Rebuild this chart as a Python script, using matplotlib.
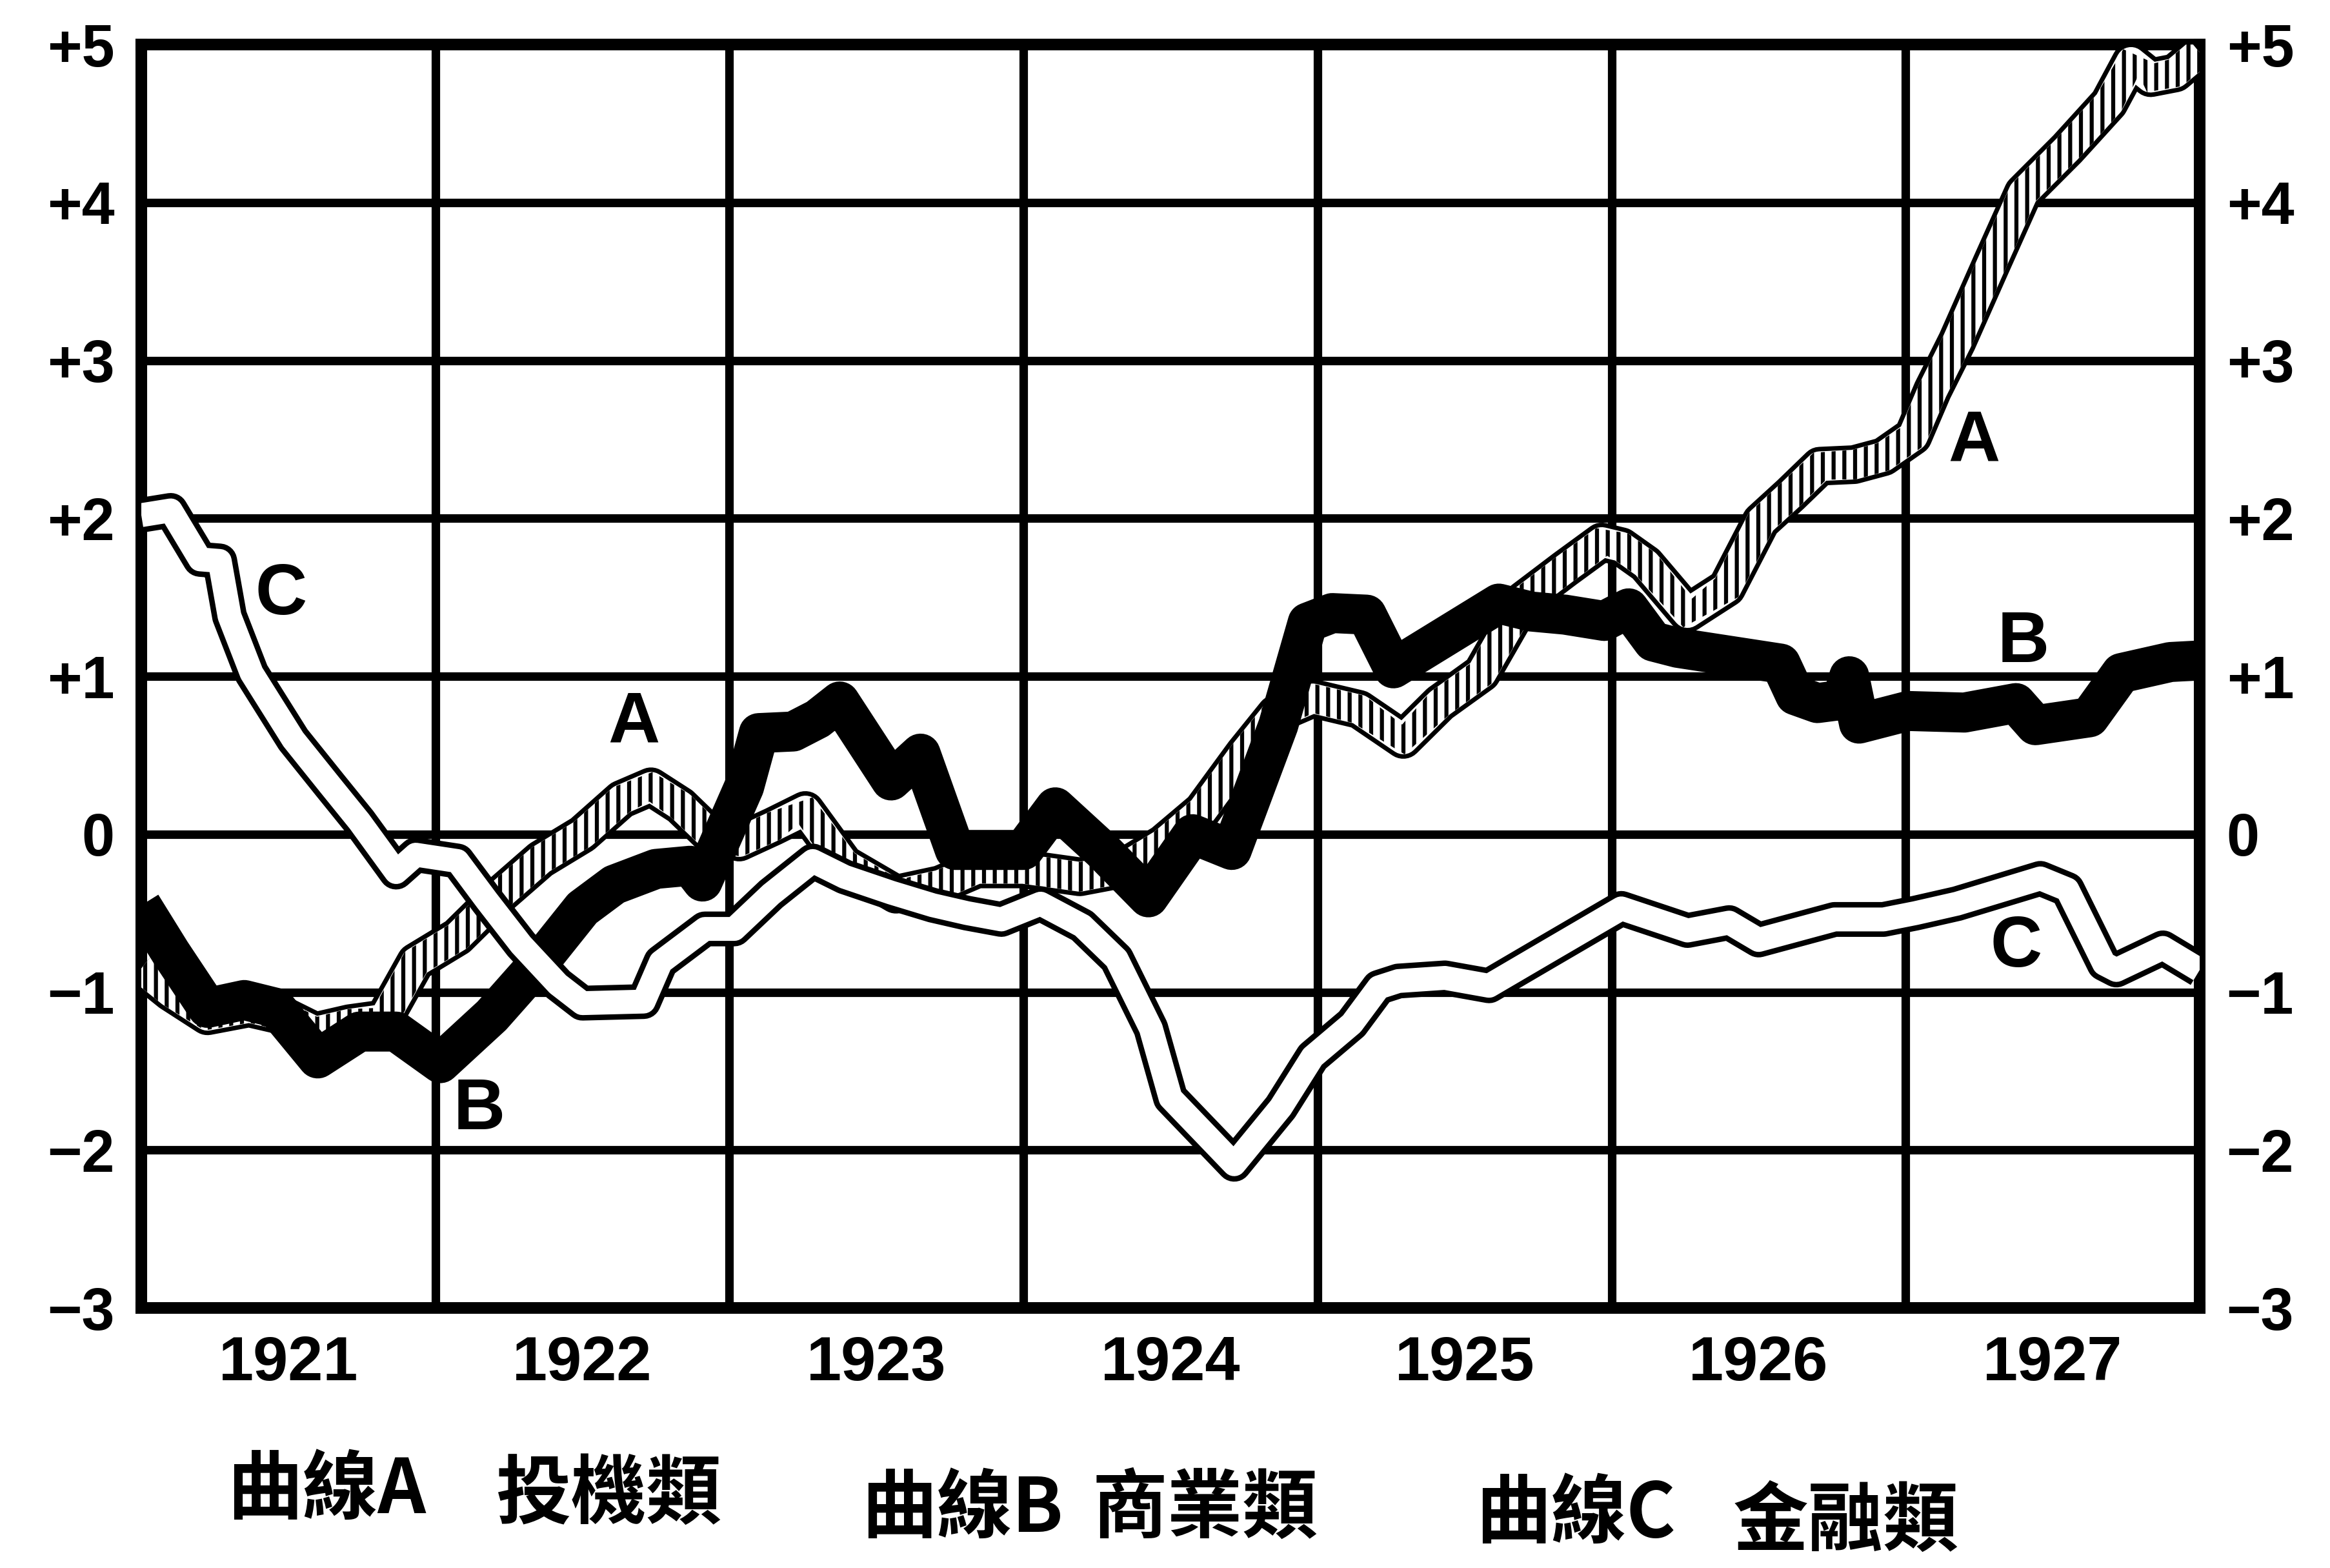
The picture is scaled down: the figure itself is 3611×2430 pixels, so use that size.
import numpy as np
import matplotlib.pyplot as plt

# months counted from January 1921, index values in standard-deviation units
years = ['1921', '1922', '1923', '1924', '1925', '1926', '1927']
y_levels = [5, 4, 3, 2, 1, 0, -1, -2, -3]
y_labels = ['+5', '+4', '+3', '+2', '+1', '0', '\u22121', '\u22122', '\u22123']

a_month = [0, 1.2, 2.7, 4.4, 5.8, 7.1, 8.5, 9.9, 11.2, 12.9, 14.6, 16.3, 18.0, 19.6,
           20.8, 22.0, 23.2, 24.4, 25.8, 27.1, 28.7, 30.8, 32.6, 34.1, 36.0, 38.3,
           40.0, 41.7, 43.3, 45.0, 46.3, 47.8, 49.7, 51.5, 53.0, 54.7, 56.4, 58.1,
           59.6, 60.4, 61.4, 63.1, 64.7, 66.1, 67.3, 68.5, 69.9, 71.1, 72.3, 73.1,
           74.1, 75.5, 76.8, 78.6, 80.3, 81.2, 82.0, 83.0, 84.0]
a_value = [-0.85, -1.00, -1.15, -1.10, -1.15, -1.25, -1.20, -1.17, -0.81, -0.65,
           -0.39, -0.16, 0.00, 0.22, 0.30, 0.18, 0.00, -0.05, 0.05, 0.15, -0.19,
           -0.38, -0.32, -0.22, -0.22, -0.27, -0.22, -0.06, 0.15, 0.51, 0.76, 0.86,
           0.79, 0.60, 0.83, 1.02, 1.48, 1.68, 1.85, 1.82, 1.71, 1.40, 1.56, 1.98,
           2.15, 2.33, 2.34, 2.39, 2.52, 2.81, 3.12, 3.61, 4.06, 4.34, 4.63, 4.89,
           4.79, 4.82, 4.95]

b_month = [0, 1.2, 2.7, 4.2, 5.5, 7.2, 8.9, 10.4, 12.2, 14.3, 16.3, 18.0, 19.3,
           21.0, 22.4, 22.9, 24.6, 25.2, 26.6, 27.6, 28.5, 30.6, 31.8, 33.2, 36.0,
           37.3, 39.2, 41.1, 42.9, 44.5, 46.4, 47.6, 48.6, 50.0, 51.1, 55.4, 56.7,
           58.1, 59.7, 60.7, 61.7, 62.7, 64.8, 66.9, 67.5, 68.4, 69.4, 69.7, 70.1,
           72.1, 74.4, 76.5, 77.3, 79.5, 80.8, 82.8, 84.0]
b_value = [-0.45, -0.75, -1.10, -1.05, -1.10, -1.42, -1.25, -1.25, -1.45, -1.15,
           -0.80, -0.47, -0.32, -0.22, -0.20, -0.30, 0.30, 0.64, 0.65, 0.73, 0.84,
           0.34, 0.51, -0.10, -0.10, 0.17, -0.10, -0.40, 0.00, -0.10, 0.69, 1.34,
           1.40, 1.39, 1.05, 1.46, 1.41, 1.39, 1.35, 1.43, 1.22, 1.18, 1.13, 1.08,
           0.88, 0.83, 0.85, 1.00, 0.70, 0.78, 0.77, 0.83, 0.69, 0.74, 1.02, 1.09,
           1.10]

c_month = [0, 1.2, 2.4, 3.2, 3.6, 4.5, 6.2, 7.7, 8.9, 10.4, 11.2, 12.9, 14.1, 15.5,
           17.0, 18.0, 20.5, 21.2, 23.0, 24.2, 25.7, 27.4, 28.7, 30.6, 32.3, 33.7,
           35.1, 36.7, 38.4, 39.8, 41.2, 42.0, 44.6, 46.5, 47.8, 49.4, 50.5, 51.3,
           53.2, 55.0, 57.2, 60.4, 63.1, 64.8, 66.0, 69.1, 71.1, 72.4, 74.1, 77.5,
           78.6, 80.1, 80.6, 82.5, 84.0]
c_value = [2.02, 2.05, 1.74, 1.73, 1.38, 1.02, 0.60, 0.31, 0.08, -0.24, -0.13,
           -0.17, -0.42, -0.70, -0.95, -1.07, -1.06, -0.81, -0.60, -0.60, -0.38,
           -0.17, -0.27, -0.37, -0.45, -0.50, -0.54, -0.44, -0.58, -0.79, -1.23,
           -1.67, -2.09, -1.73, -1.41, -1.20, -0.97, -0.93, -0.91, -0.96, -0.76,
           -0.47, -0.61, -0.56, -0.67, -0.54, -0.54, -0.50, -0.44, -0.28, -0.35,
           -0.82, -0.86, -0.72, -0.86]

curve_tags = [('C', 5.7, 1.51), ('A', 20.1, 0.70), ('B', 13.8, -1.75),
              ('A', 74.8, 2.48), ('B', 76.8, 1.21), ('C', 76.5, -0.72)]

captions = [('曲線A', 0.140, 0.049), ('投機類', 0.261, 0.046),
            ('曲線B', 0.413, 0.037), ('商業類', 0.517, 0.037),
            ('曲線C', 0.676, 0.034), ('金融類', 0.792, 0.029)]

LATIN = ['Liberation Sans', 'DejaVu Sans']
PT = 100 / 72.0  # pixels per point at dpi 100


def ribbon(ax, x, y, half_px):
    # band of constant width (in pixels) around the curve, back in data units
    pts = ax.transData.transform(np.column_stack([x, y]))
    d = np.gradient(pts, axis=0)
    n = np.column_stack([-d[:, 1], d[:, 0]])
    n /= np.hypot(n[:, 0], n[:, 1])[:, None]
    outline = np.vstack([pts + half_px * n, (pts - half_px * n)[::-1]])
    return ax.transData.inverted().transform(outline)


plt.rcParams['hatch.linewidth'] = 4.5

fig = plt.figure(figsize=(36.12, 24.30), dpi=100)
ax = fig.add_axes([219 / 3612, 1 - 2027 / 2430, 3190 / 3612, 1958 / 2430])
ax.set_xlim(0, 84)
ax.set_ylim(-3, 5)

ax.set_xticks(np.arange(0, 85, 12))
ax.set_xticks(np.arange(6, 84, 12), minor=True)
ax.set_xticklabels([])
ax.set_xticklabels(years, minor=True, fontsize=70, fontweight='bold', family=LATIN)
ax.set_yticks(y_levels)
ax.set_yticklabels(y_labels, fontsize=66, fontweight='bold', family=LATIN)
ax.tick_params(axis='x', which='both', length=0, pad=30)
ax.tick_params(axis='y', length=0, pad=30, labelright=True)

ax.set_axisbelow(True)
ax.grid(True, which='major', color='black', linewidth=9.5)
for sp in ax.spines.values():
    sp.set_linewidth(13)

# curve A: hatched band with a double outline
ax.plot(a_month, a_value, color='black', lw=60 / PT, solid_joinstyle='round',
        solid_capstyle='butt', zorder=3)
ax.plot(a_month, a_value, color='white', lw=46 / PT, solid_joinstyle='round',
        solid_capstyle='butt', zorder=3.1)
band = ribbon(ax, a_month, a_value, 23)
ax.fill(band[:, 0], band[:, 1], facecolor='none', edgecolor='black', lw=0,
        hatch='|', zorder=3.2)

# curve B: solid heavy stroke
ax.plot(b_month, b_value, color='black', lw=62 / PT, solid_joinstyle='round',
        solid_capstyle='butt', zorder=4)

# curve C: hollow double line
ax.plot(c_month, c_value, color='black', lw=54 / PT, solid_joinstyle='round',
        solid_capstyle='butt', zorder=5)
ax.plot(c_month, c_value, color='white', lw=37 / PT, solid_joinstyle='round',
        solid_capstyle='butt', zorder=5.1)

for tag, mx, my in curve_tags:
    ax.text(mx, my, tag, fontsize=80, fontweight='bold', family=LATIN,
            ha='center', va='center', zorder=6)

for txt, fx, fy in captions:
    fig.text(fx, fy, txt, fontsize=84, fontweight='bold',
             family=['Noto Sans CJK TC', 'DejaVu Sans'], ha='center', va='center')

plt.savefig('out.png', dpi=100, facecolor='white')
